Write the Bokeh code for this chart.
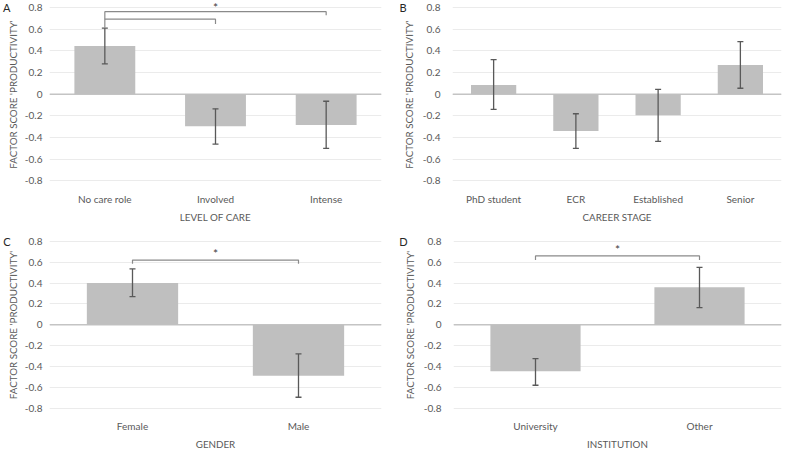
from bokeh.plotting import figure
from bokeh.models import (ColumnDataSource, FactorRange, Range1d, FixedTicker,
                          Whisker, TeeHead, Span, LinearAxis)
from bokeh.layouts import column, row
from bokeh.embed import file_html
from bokeh.resources import INLINE
from bokeh.core.properties import value

# ---------------- data ----------------
Y_TICKS = [-0.8, -0.6, -0.4, -0.2, 0, 0.2, 0.4, 0.6, 0.8]
Y_TICK_LABELS = ["-0.8", "-0.6", "-0.4", "-0.2", "0", "0.2", "0.4", "0.6", "0.8"]
Y_TITLE = "FACTOR SCORE 'PRODUCTIVITY'"

care_levels = ["No care role", "Involved", "Intense"]
care_mean = [0.445, -0.295, -0.285]
care_upper = [0.61, -0.135, -0.065]
care_lower = [0.28, -0.46, -0.50]
# significance brackets: (group a, group b, bracket height, foot a, foot b, starred)
care_brackets = [("No care role", "Involved", 0.693, 0.616, 0.649, False),
                 ("No care role", "Intense", 0.762, 0.693, 0.729, True)]

career_stages = ["PhD student", "ECR", "Established", "Senior"]
career_mean = [0.085, -0.34, -0.195, 0.27]
career_upper = [0.32, -0.18, 0.045, 0.485]
career_lower = [-0.14, -0.50, -0.435, 0.055]
career_brackets = []

genders = ["Female", "Male"]
gender_mean = [0.40, -0.49]
gender_upper = [0.535, -0.28]
gender_lower = [0.27, -0.695]
gender_brackets = [("Female", "Male", 0.62, 0.584, 0.584, True)]

institutions = ["University", "Other"]
inst_mean = [-0.445, 0.36]
inst_upper = [-0.325, 0.55]
inst_lower = [-0.58, 0.165]
inst_brackets = [("University", "Other", 0.66, 0.62, 0.62, True)]

FONT = "Lato"
TEXT = "#595959"
Y_START, Y_END = -0.87, 0.865


def panel(letter, cats, mean, upper, lower, xtitle, brackets,
          width, height, left, right, bottom, ylab_standoff, ytitle_standoff):
    p = figure(x_range=FactorRange(factors=cats), y_range=Range1d(Y_START, Y_END),
               width=width, height=height, output_backend="svg",
               toolbar_location=None, min_border_left=left,
               min_border_right=right, min_border_top=0,
               min_border_bottom=bottom)
    p.outline_line_color = None
    p.background_fill_color = "white"
    p.border_fill_color = "white"

    src = ColumnDataSource(dict(cat=cats, mean=mean, upper=upper, lower=lower))
    p.vbar(x="cat", top="mean", bottom=0, width=0.55, source=src,
           fill_color="#bfbfbf", line_color=None)
    p.add_layout(Span(location=0, dimension="width", line_color="#c4c4c4",
                      line_width=1.5, level="underlay"))

    head = dict(size=6, line_color="#595959", line_width=1.3)
    w = Whisker(source=src, base="cat", upper="upper", lower="lower",
                line_color="#595959", line_width=1.3, level="annotation",
                upper_head=TeeHead(**head), lower_head=TeeHead(**head))
    p.add_layout(w)

    xs, ys, sx, sy = [], [], [], []
    for a, b, h, fa, fb, star in brackets:
        xa = cats.index(a) + 0.5
        xb = cats.index(b) + 0.5
        xs.append([xa, xa, xb, xb])
        ys.append([fa, h, h, fb])
        if star:
            sx.append((xa + xb) / 2)
            sy.append(min(h + 0.065, Y_END - 0.06))
    if xs:
        p.multi_line(xs, ys, line_color="#8a8a8a", line_width=1.2)
        p.text(x=sx, y=sy, text=["*"] * len(sx), text_align="center",
               text_baseline="middle", text_font=value(FONT),
               text_font_size="12px", text_color="#404040")

    ticker = FixedTicker(ticks=Y_TICKS)
    p.yaxis.ticker = ticker
    p.yaxis.major_label_overrides = dict(zip(Y_TICKS, Y_TICK_LABELS))
    p.ygrid.ticker = ticker
    p.ygrid.grid_line_color = "#ebebeb"
    p.xgrid.visible = False

    # outer left axis that carries only the panel letter, level with 0.8;
    # a negative standoff lays it over the (empty) top of the y-title band
    letter_axis = LinearAxis(ticker=FixedTicker(ticks=[0.8]),
                             major_label_overrides={0.8: letter})
    p.add_layout(letter_axis, "left")

    for ax in (p.xaxis[0], p.yaxis[0], letter_axis):
        ax.axis_line_color = None
        ax.major_tick_line_color = None
        ax.minor_tick_line_color = None
        ax.major_tick_out = 0
        ax.major_tick_in = 0
        ax.minor_tick_out = 0
        ax.minor_tick_in = 0
        ax.major_label_text_font = FONT
        ax.major_label_text_font_size = "10px"
        ax.major_label_text_color = TEXT
        ax.axis_label_text_font = FONT
        ax.axis_label_text_font_size = "9.8px"
        ax.axis_label_text_font_style = "normal"
        ax.axis_label_text_color = TEXT
    letter_axis.major_label_text_font_size = "11px"
    letter_axis.major_label_text_color = "#262626"
    letter_axis.major_label_standoff = -7

    yax = p.yaxis[0]
    yax.axis_label = Y_TITLE
    yax.major_label_standoff = ylab_standoff
    yax.axis_label_standoff = ytitle_standoff
    p.xaxis.axis_label = xtitle
    p.xaxis.major_label_standoff = 4
    p.xaxis.axis_label_standoff = 3
    return p


pA = panel("A", care_levels, care_mean, care_upper, care_lower,
           "LEVEL OF CARE", care_brackets, 396, 234, 43, 15, 46, 7, 3)
pB = panel("B", career_stages, career_mean, career_upper, career_lower,
           "CAREER STAGE", career_brackets, 387, 234, 50, 2, 46, 12, 5)
pC = panel("C", genders, gender_mean, gender_upper, gender_lower,
           "GENDER", gender_brackets, 396, 218, 43, 15, 30, 7, 3)
pD = panel("D", institutions, inst_mean, inst_upper, inst_lower,
           "INSTITUTION", inst_brackets, 387, 218, 50, 2, 30, 12, 5)

layout = column(row(pA, pB), row(pC, pD))

with open("out.html", "w") as f:
    f.write(file_html(layout, INLINE))
